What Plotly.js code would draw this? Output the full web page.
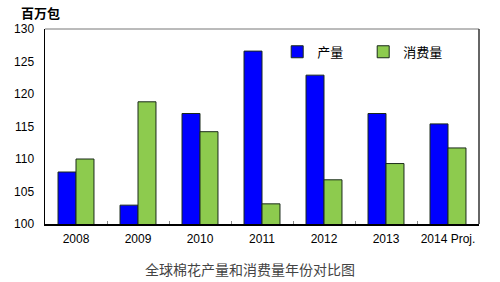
<!DOCTYPE html>
<html><head><meta charset="utf-8">
<script src="https://cdn.plot.ly/plotly-3.0.1.min.js"></script>
<style>html,body{margin:0;padding:0;background:#fff}#c{width:500px;height:282px}</style>
</head><body><div id="c"></div>
<script>
const categories = ["2008","2009","2010","2011","2012","2013","2014 Proj."];
const production = [108.0, 102.9, 117.0, 126.6, 122.9, 117.0, 115.4];
const consumption = [110.0, 118.8, 114.2, 103.1, 106.8, 109.3, 111.7];
const seriesNames = ["产量","消费量"];
const yTitle = "百万包";
const chartTitle = "全球棉花产量和消费量年份对比图";

const font = "Liberation Sans, Arial, Noto Sans CJK SC, sans-serif";
const cjk = "Noto Sans CJK SC, sans-serif";

const data = [
  {type:"bar", x:categories, y:production, name:seriesNames[0],
   marker:{color:"#0000FF", line:{color:"#1a2a1a", width:1}}},
  {type:"bar", x:categories, y:consumption, name:seriesNames[1],
   marker:{color:"#8DCB4E", line:{color:"#1a2a1a", width:1}}}
];

const layout = {
  width:500, height:282,
  margin:{l:45, r:21, t:29, b:58},
  paper_bgcolor:"#fff", plot_bgcolor:"#fff",
  barmode:"group", bargap:0.42, bargroupgap:0,
  font:{family:font, size:12, color:"#000"},
  showlegend:true,
  legend:{orientation:"h", x:0.535, y:0.96, xanchor:"left", yanchor:"top",
          font:{family:cjk, size:13, color:"#000"}, bgcolor:"rgba(0,0,0,0)",
          itemwidth:30, tracegroupgap:0, entrywidth:41, entrywidthmode:"pixels"},
  xaxis:{type:"category", showline:true, linecolor:"#000", linewidth:1.5, mirror:false,
         ticks:"inside", tickson:"boundaries", ticklen:3, tickcolor:"#888", tickangle:0,
         tickfont:{family:font, size:12, color:"#000"}, showgrid:false, ticklabelstandoff:3},
  yaxis:{range:[100,130], dtick:5, showline:true, linecolor:"#000", linewidth:1.5,
         ticks:"", showgrid:false, zeroline:false,
         tickfont:{family:font, size:12, color:"#000"}, ticklabelstandoff:7},
  shapes:[
    {type:"line", xref:"paper", yref:"paper", x0:0, x1:1, y0:1, y1:1, line:{color:"#777", width:1}},
    {type:"line", xref:"paper", yref:"paper", x0:1, x1:1, y0:0, y1:1, line:{color:"#333", width:1.5}}
  ],
  annotations:[
    {text:yTitle, xref:"paper", yref:"paper", x:-0.06, y:1.0, yshift:28, xanchor:"left", yanchor:"top",
     showarrow:false, font:{family:cjk, size:13, color:"#000", weight:"bold"}},
    {text:chartTitle, xref:"paper", yref:"paper", x:0.473, y:0, yshift:-33, xanchor:"center", yanchor:"top",
     showarrow:false, font:{family:cjk, size:14, color:"#444"}}
  ]
};
Plotly.newPlot("c", data, layout, {staticPlot:true});
</script></body></html>
